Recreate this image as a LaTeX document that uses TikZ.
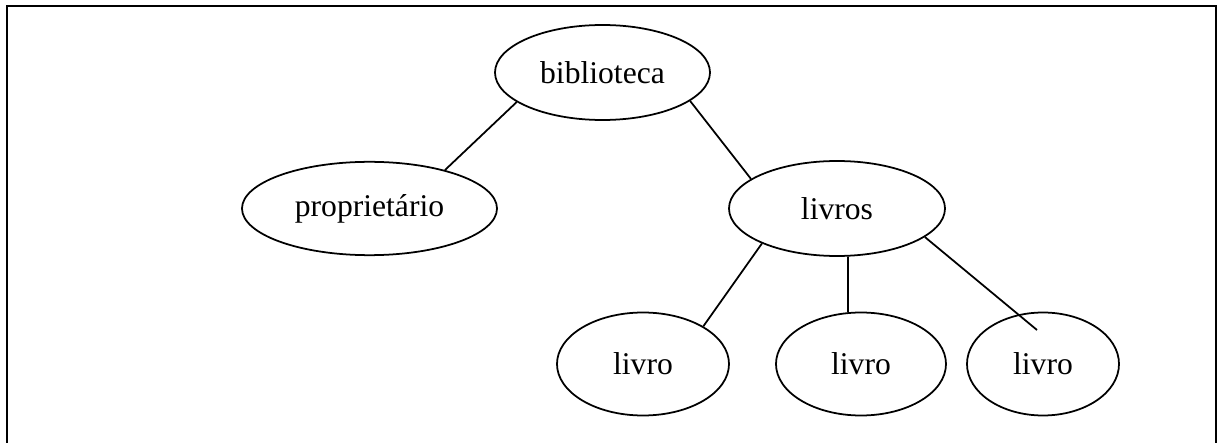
\documentclass[tikz,border=0pt]{standalone}
\usepackage{fontspec}
\setmainfont{Liberation Serif}
\usepackage{tikz}
\usetikzlibrary{shapes.geometric}

\begin{document}
\begin{tikzpicture}[x=0.03cm, y=0.03cm,
    elemento/.style={ellipse, draw, line width=1.5pt, inner sep=0pt,
        font=\fontsize{27}{31}\selectfont},
    ligacao/.style={line width=1.5pt}]
    \useasboundingbox (0,0) rectangle (1218,443);

    % Frame (bottom edge runs off the page)
    \draw[line width=2.2pt] (7,0) |- (1216,437) -- (1216,0);

    % Elements
    \node[elemento, minimum width=6.45cm, minimum height=2.85cm] (biblioteca) at (602.5,370.5) {biblioteca};
    \node[elemento, minimum width=7.65cm, minimum height=2.8cm] (proprietario) at (369.5,234.5) {propriet\'ario};
    \node[elemento, minimum width=6.48cm, minimum height=2.85cm] (livros) at (837,234.5) {livros};
    \node[elemento, minimum width=5.16cm, minimum height=3.09cm] (livroA) at (643,79) {livro};
    \node[elemento, minimum width=5.1cm, minimum height=3.09cm] (livroB) at (861,79) {livro};
    \node[elemento, minimum width=4.56cm, minimum height=3.09cm] (livroC) at (1043,79) {livro};
    \coordinate (ponta) at (1037,113);

    % Connectors
    \draw[ligacao] (biblioteca.199) -- (proprietario.27);
    \draw[ligacao] (biblioteca.342) -- (livros.161);
    \draw[ligacao] (livros.205) -- (livroA.32);
    \draw[ligacao] (livros.283) -- (livroB.104);
    \draw[ligacao] (livros.342) -- (ponta);
\end{tikzpicture}
\end{document}
